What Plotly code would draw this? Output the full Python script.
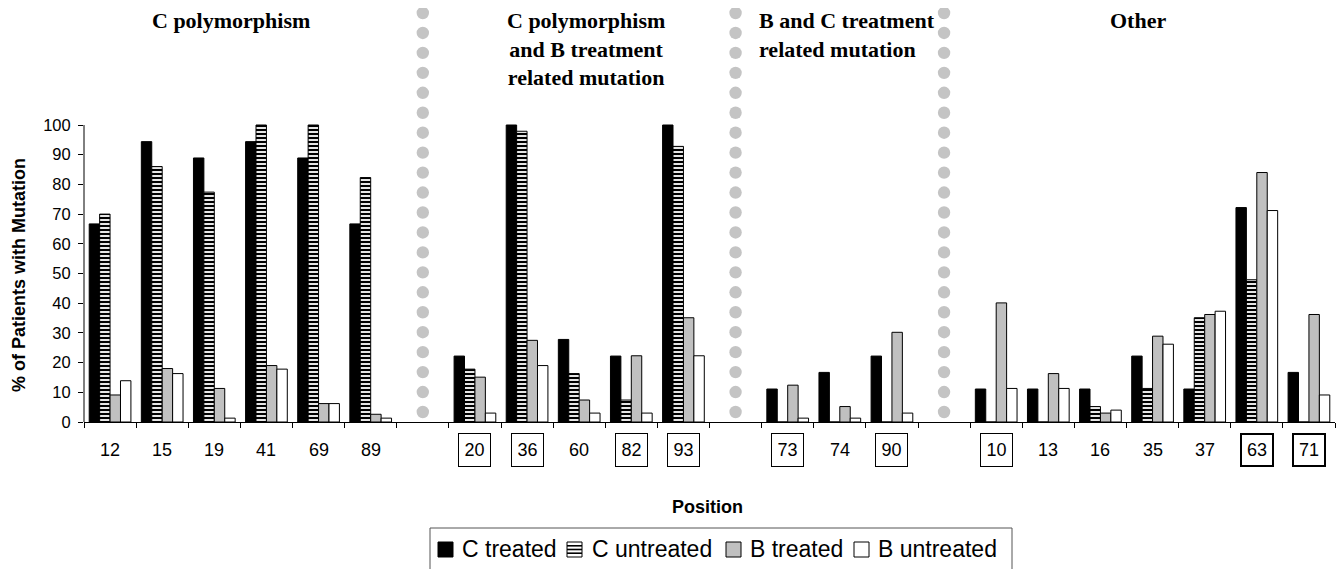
import plotly.graph_objects as go

# ---- data ----
positions = ["12", "15", "19", "41", "69", "89", " ",
             "20", "36", "60", "82", "93", "  ",
             "73", "74", "90", "   ",
             "10", "13", "16", "35", "37", "63", "71"]
boxed_thin = ["20", "36", "82", "93", "73", "90", "10"]
boxed_thick = ["63", "71"]

c_treated = [66.7, 94.4, 88.9, 94.4, 88.9, 66.7, None,
             22.2, 100, 27.8, 22.2, 100, None,
             11.1, 16.7, 22.2, None,
             11.1, 11.1, 11.1, 22.2, 11.1, 72.2, 16.7]
c_untreated = [70, 86, 77.4, 100, 100, 82.3, None,
               17.8, 97.9, 16.3, 7.4, 92.8, None,
               0, 0, 0, None,
               0, 0, 5.2, 11.3, 35.1, 47.9, 0]
b_treated = [9.1, 18, 11.3, 19, 6.2, 2.6, None,
             15.1, 27.5, 7.4, 22.3, 35.1, None,
             12.4, 5.2, 30.2, None,
             40.1, 16.3, 3, 28.9, 36.2, 84, 36.2]
b_untreated = [13.9, 16.3, 1.3, 17.8, 6.2, 1.3, None,
               3, 19, 3, 3, 22.3, None,
               1.3, 1.3, 3, None,
               11.3, 11.3, 4, 26.2, 37.3, 71.2, 9.1]

series_names = ["C treated", "C untreated", "B treated", "B untreated"]
group_titles = ["C polymorphism",
                "C polymorphism<br>and B treatment<br>related mutation",
                "B and C treatment<br>related mutation",
                "Other"]
y_ticks = [0, 10, 20, 30, 40, 50, 60, 70, 80, 90, 100]

SANS = "Liberation Sans, Arial, sans-serif"
SERIF = "Liberation Serif, Times New Roman, serif"

# ---- geometry (reference-pixel coordinates; page body has an 8px offset) ----
O = 8
FW, FH = 1344 - O, 569 - O
PLOT_L, PLOT_R, PLOT_T, PLOT_B = 84, 1335, 8, 422
L, R, T, B = PLOT_L - O, FW - (PLOT_R - O), PLOT_T - O, FH - (PLOT_B - O)
PW, PH = PLOT_R - PLOT_L, PLOT_B - PLOT_T
Y_TOP = PH / 2.97  # data value at top of plot area


def px_x(p):
    return (p - PLOT_L) / PW


def px_y(p):
    return (PLOT_B - p) / PH


fig = go.Figure()
line = dict(color="black", width=1)
stripes = dict(shape="-", fgcolor="black", bgcolor="white", size=4, solidity=0.55, fillmode="replace")
fig.add_trace(go.Bar(x=positions, y=c_treated, name=series_names[0],
                     marker=dict(color="black", line=line)))
fig.add_trace(go.Bar(x=positions, y=c_untreated, name=series_names[1],
                     marker=dict(color="white", line=line, pattern=stripes)))
fig.add_trace(go.Bar(x=positions, y=b_treated, name=series_names[2],
                     marker=dict(color="#c0c0c0", line=line)))
fig.add_trace(go.Bar(x=positions, y=b_untreated, name=series_names[3],
                     marker=dict(color="white", line=line)))

shapes = []
# y axis line from 0 to 100 only
shapes.append(dict(type="line", xref="paper", yref="y", x0=0, x1=0, y0=0, y1=100,
                   line=dict(color="black", width=1)))
# dotted separators at gap categories
gap_idx = [i for i, p in enumerate(positions) if p.strip() == ""]
r_x = 6.2 / (PW / len(positions))
r_y = 6.2 / PH
for gi in gap_idx:
    for k in range(21):
        yc = px_y(412 - k * 19.95)
        shapes.append(dict(type="circle", xref="x", yref="paper",
                           x0=gi - r_x, x1=gi + r_x, y0=yc - r_y, y1=yc + r_y,
                           fillcolor="#c4c4c4", line=dict(width=0), layer="below"))

annotations = []
# category labels
for i, p in enumerate(positions):
    if p.strip() == "":
        continue
    a = dict(x=i, xref="x", y=px_y(450), yref="paper", text=p, showarrow=False,
             xanchor="center", yanchor="middle", font=dict(family=SANS, size=18, color="black"))
    if p in boxed_thin:
        a.update(bordercolor="black", borderwidth=1, borderpad=4, width=23, height=24)
    elif p in boxed_thick:
        a.update(bordercolor="black", borderwidth=2, borderpad=4, width=22, height=22)
    annotations.append(a)

# group titles
title_pos = [(231, "center", "center"), (586, "center", "center"),
             (757, "left", "left"), (1138, "center", "center")]
for t, (xp, xa, al) in zip(group_titles, title_pos):
    annotations.append(dict(x=px_x(xp), xref="paper", y=px_y(6), yref="paper", text="<b>" + t + "</b>",
                            showarrow=False, xanchor=xa, yanchor="top", align=al,
                            font=dict(family=SERIF, size=22, color="black")))

annotations.append(dict(x=px_x(707), xref="paper", y=px_y(507), yref="paper", text="<b>Position</b>",
                        showarrow=False, xanchor="center", yanchor="middle",
                        font=dict(family=SANS, size=18, color="black")))
annotations.append(dict(x=px_x(19), xref="paper", y=px_y(275), yref="paper",
                        text="<b>% of Patients with Mutation</b>", textangle=-90,
                        showarrow=False, xanchor="center", yanchor="middle",
                        font=dict(family=SANS, size=18, color="black")))

# ---- hand-drawn legend ----
shapes.append(dict(type="rect", xref="paper", yref="paper",
                   x0=px_x(430), x1=px_x(1012), y0=px_y(580), y1=px_y(528),
                   line=dict(color="#555", width=1), fillcolor="white", layer="below"))
sym_x = [438, 567, 726, 854]
txt_x = [460, 590, 748, 876]
sym_fill = ["black", "white", "#c0c0c0", "white"]
for sx, tx, fc, name in zip(sym_x, txt_x, sym_fill, series_names):
    shapes.append(dict(type="rect", xref="paper", yref="paper",
                       x0=px_x(sx), x1=px_x(sx + 15), y0=px_y(557), y1=px_y(542),
                       fillcolor=fc, line=dict(color="black", width=1)))
    annotations.append(dict(x=px_x(tx), xref="paper", y=px_y(549), yref="paper", text=name,
                            showarrow=False, xanchor="left", yanchor="middle",
                            font=dict(family=SANS, size=23, color="black")))
for yy in (545.8, 549.5, 553.2):
    shapes.append(dict(type="line", xref="paper", yref="paper",
                       x0=px_x(sym_x[1]), x1=px_x(sym_x[1] + 15), y0=px_y(yy), y1=px_y(yy),
                       line=dict(color="black", width=1.6)))

fig.update_layout(
    width=FW, height=FH,
    margin=dict(l=L, r=R, t=T, b=B, pad=0, autoexpand=False),
    paper_bgcolor="white", plot_bgcolor="white",
    barmode="group", bargap=0.2, bargroupgap=0,
    shapes=shapes, annotations=annotations,
    showlegend=False,
)
fig.update_xaxes(type="category", categoryorder="array", categoryarray=positions,
                 range=[-0.5, len(positions) - 0.5],
                 showline=True, linecolor="black", linewidth=1,
                 ticks="outside", tickson="boundaries", ticklen=5, tickcolor="black",
                 showticklabels=False, showgrid=False, zeroline=False)
fig.update_yaxes(range=[0, Y_TOP], tickvals=y_ticks, showline=False, showgrid=False,
                 zeroline=False, ticks="outside", ticklen=5, tickcolor="black",
                 tickfont=dict(family=SANS, size=16.5, color="black"), ticklabelstandoff=4)

fig.write_html("out.html")
